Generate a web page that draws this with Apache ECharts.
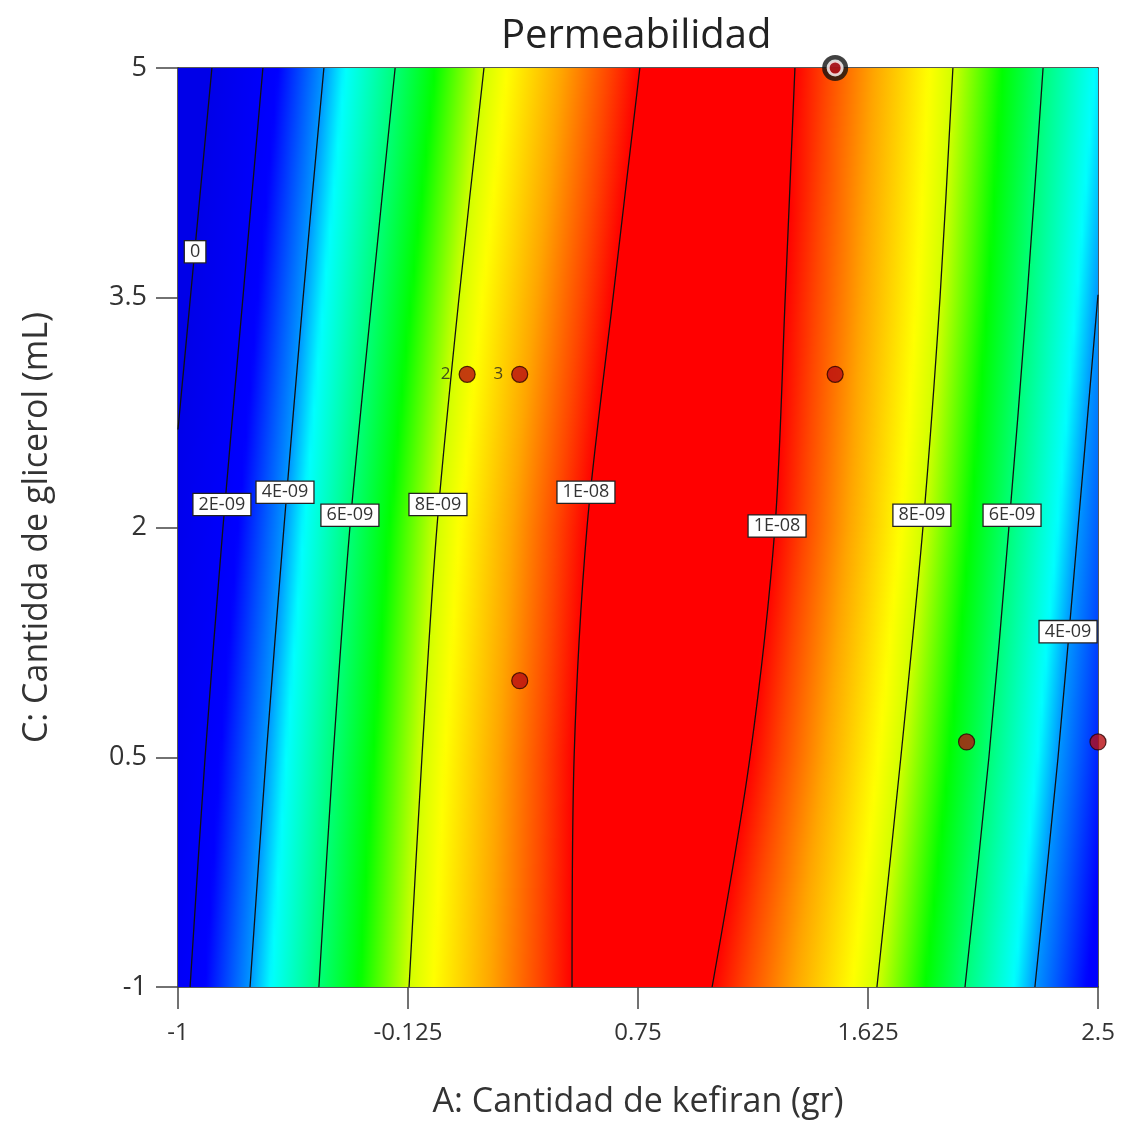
<!DOCTYPE html>
<html>
<head>
<meta charset="utf-8">
<script src="https://cdn.jsdelivr.net/npm/echarts@6/dist/echarts.min.js"></script>
<style>
  html, body { margin: 0; padding: 0; background: #fff; }
  #main { width: 1123px; height: 1124px; }
</style>
</head>
<body>
<div id="main"></div>
<script type="text/javascript">
    // axis ticks
    var xTicks = [-1, -0.125, 0.75, 1.625, 2.5];
    var yTicks = [-1, 0.5, 2, 3.5, 5];

    // contour lines: level and [A, C] points
    var contourLevels = [0, 2e-9, 4e-9, 6e-9, 8e-9, 1e-8, 1e-8, 8e-9, 6e-9, 4e-9];
    var contourPaths = [
        [[-1.0, 2.64], [-0.871, 5]],
        [[-0.954, -1], [-0.897, 0.5], [-0.829, 2], [-0.753, 3.5], [-0.677, 5]],
        [[-0.726, -1], [-0.665, 0.5], [-0.597, 2], [-0.524, 3.5], [-0.445, 5]],
        [[-0.464, -1], [-0.410, 0.5], [-0.346, 2], [-0.262, 3.5], [-0.174, 5]],
        [[-0.121, -1], [-0.072, 0.5], [-0.015, 2], [0.069, 3.5], [0.164, 5]],
        [[0.499, -1], [0.507, 0.5], [0.556, 2], [0.655, 3.5], [0.757, 5]],
        [[1.032, -1], [1.176, 0.5], [1.271, 2], [1.310, 3.5], [1.347, 5]],
        [[1.659, -1], [1.750, 0.5], [1.834, 2], [1.899, 3.5], [1.948, 5]],
        [[1.994, -1], [2.085, 0.5], [2.161, 2], [2.230, 3.5], [2.291, 5]],
        [[2.260, -1], [2.348, 0.5], [2.424, 2], [2.5, 3.52], [2.576, 5]]
    ];

    // contour labels
    var labelText = ['0', '2E-09', '4E-09', '6E-09', '8E-09', '1E-08', '1E-08', '8E-09', '6E-09', '4E-09'];
    var labelA = [-0.935, -0.833, -0.593, -0.346, -0.011, 0.552, 1.279, 1.830, 2.173, 2.386];
    var labelC = [3.80, 2.15, 2.23, 2.08, 2.15, 2.23, 2.01, 2.08, 2.08, 1.32];

    // design points
    var runA = [0.1, 0.3, 1.5, 0.3, 2.0, 2.5];
    var runC = [3, 3, 3, 1.0, 0.6, 0.6];
    var runTag = ['2', '3', '', '', '', ''];

    // selected optimum
    var optA = [1.5];
    var optC = [5];

    // colour ramp (value -> rgb)
    var ramp = [
        [0, [0, 0, 232]],
        [2.5e-9, [0, 0, 255]],
        [4.0e-9, [0, 150, 255]],
        [4.6e-9, [0, 255, 255]],
        [6.0e-9, [0, 255, 120]],
        [6.9e-9, [0, 255, 0]],
        [8.0e-9, [210, 255, 0]],
        [8.3e-9, [255, 255, 0]],
        [9.0e-9, [255, 165, 0]],
        [9.6e-9, [255, 70, 0]],
        [1.0e-8, [255, 0, 0]]
    ];

    function rampColor(v) {
        if (v <= ramp[0][0]) return 'rgb(' + ramp[0][1].join(',') + ')';
        for (var i = 0; i < ramp.length - 1; i++) {
            if (v <= ramp[i + 1][0]) {
                var t = (v - ramp[i][0]) / (ramp[i + 1][0] - ramp[i][0]);
                var a = ramp[i][1], b = ramp[i + 1][1];
                return 'rgb(' + Math.round(a[0] + t * (b[0] - a[0])) + ',' +
                    Math.round(a[1] + t * (b[1] - a[1])) + ',' +
                    Math.round(a[2] + t * (b[2] - a[2])) + ')';
            }
        }
        return 'rgb(' + ramp[ramp.length - 1][1].join(',') + ')';
    }

    function valueAt(knots, px) {
        if (knots.length === 0) return 0;
        if (knots.length === 1) return knots[0][1];
        var i = 0;
        if (px <= knots[0][0]) i = 0;
        else if (px >= knots[knots.length - 1][0]) i = knots.length - 2;
        else {
            while (i < knots.length - 2 && px > knots[i + 1][0]) i++;
        }
        var a = knots[i], b = knots[i + 1];
        if (b[0] === a[0]) return a[1];
        return a[1] + (px - a[0]) / (b[0] - a[0]) * (b[1] - a[1]);
    }

    var myChart = echarts.init(document.getElementById('main'));

    var series = [];

    // colour field built from the contour lines
    series.push({
        type: 'custom',
        silent: true,
        clip: true,
        z: 1,
        data: [0],
        renderItem: function (params, api) {
            var tl = api.coord([xTicks[0], yTicks[yTicks.length - 1]]);
            var br = api.coord([xTicks[xTicks.length - 1], yTicks[0]]);
            var w = br[0] - tl[0];
            var paths = contourPaths.map(function (p) {
                return p.map(function (q) { return api.coord(q); });
            });
            var children = [];
            var step = 2;
            var n = 230;
            for (var py = Math.floor(tl[1]); py < br[1]; py += step) {
                var my = Math.min(Math.max(py + step / 2, tl[1]), br[1]);
                var knots = [];
                paths.forEach(function (p, i) {
                    for (var k = 0; k < p.length - 1; k++) {
                        var a = p[k], b = p[k + 1];
                        var lo = Math.min(a[1], b[1]), hi = Math.max(a[1], b[1]);
                        if (my >= lo && my <= hi) {
                            var t = (my - a[1]) / (b[1] - a[1]);
                            knots.push([a[0] + t * (b[0] - a[0]), contourLevels[i]]);
                            break;
                        }
                    }
                });
                knots.sort(function (a, b) { return a[0] - b[0]; });
                var stops = [];
                for (var s = 0; s <= n; s++) {
                    stops.push({ offset: s / n, color: rampColor(valueAt(knots, tl[0] + w * s / n)) });
                }
                children.push({
                    type: 'rect',
                    shape: { x: tl[0], y: py, width: w, height: step + 0.6 },
                    style: { fill: new echarts.graphic.LinearGradient(0, 0, 1, 0, stops) }
                });
            }
            return { type: 'group', children: children };
        }
    });

    contourPaths.forEach(function (p) {
        series.push({
            type: 'line',
            data: p.filter(function (q) { return q[0] <= xTicks[xTicks.length - 1]; }),
            symbol: 'none',
            silent: true,
            clip: true,
            smooth: 0.3,
            z: 3,
            lineStyle: { color: '#111', width: 1.3 }
        });
    });

    // boxed contour labels
    series.push({
        type: 'custom',
        silent: true,
        clip: false,
        z: 5,
        data: labelText.map(function (t, i) { return [labelA[i], labelC[i]]; }),
        renderItem: function (params, api) {
            var p = api.coord([api.value(0), api.value(1)]);
            return {
                type: 'text',
                x: p[0],
                y: p[1],
                style: {
                    text: labelText[params.dataIndex],
                    fill: '#333',
                    fontSize: 18,
                    fontFamily: 'Open Sans',
                    align: 'center',
                    verticalAlign: 'middle',
                    backgroundColor: '#fff',
                    borderColor: '#222',
                    borderWidth: 1.3,
                    padding: [2, 5, 1, 5]
                }
            };
        }
    });

    series.push({
        type: 'scatter',
        silent: true,
        z: 6,
        symbolSize: 16,
        itemStyle: { color: '#b80d12', borderColor: '#2a0000', borderWidth: 1.2 },
        label: {
            show: true,
            position: 'left',
            distance: 8,
            formatter: '{b}',
            color: '#222',
            fontSize: 17,
            fontFamily: 'Open Sans'
        },
        data: runA.map(function (a, i) {
            return { name: runTag[i], value: [a, runC[i]] };
        })
    });

    series.push({
        type: 'scatter',
        silent: true,
        clip: false,
        z: 7,
        symbolSize: 26,
        itemStyle: { color: '#111' },
        data: optA.map(function (a, i) { return [a, optC[i]]; })
    });
    series.push({
        type: 'scatter',
        silent: true,
        clip: false,
        z: 8,
        symbolSize: 14,
        itemStyle: { color: '#c4121a', borderColor: '#fff', borderWidth: 3 },
        data: optA.map(function (a, i) { return [a, optC[i]]; })
    });

    var option = {
        backgroundColor: '#fff',
        animation: false,
        title: {
            text: 'Permeabilidad',
            left: 496,
            top: 12,
            textStyle: { fontFamily: 'Open Sans', fontSize: 40, fontWeight: 'normal', color: '#222' }
        },
        grid: { left: 178, right: 25, top: 68, bottom: 137, show: false },
        xAxis: [{
            type: 'value',
            min: xTicks[0],
            max: xTicks[xTicks.length - 1],
            position: 'bottom',
            name: 'A: Cantidad de kefiran (gr)',
            nameLocation: 'middle',
            nameGap: 98,
            nameTextStyle: { fontFamily: 'Open Sans', fontSize: 34, color: '#333' },
            axisLine: { show: true, onZero: false, lineStyle: { color: '#222', width: 1.5 } },
            axisTick: { show: true, length: 22, customValues: xTicks, lineStyle: { color: '#444', width: 1.5 } },
            axisLabel: { customValues: xTicks, fontFamily: 'Open Sans', fontSize: 24, color: '#333', margin: 34 },
            splitLine: { show: false }
        }, {
            type: 'value',
            min: xTicks[0],
            max: xTicks[xTicks.length - 1],
            position: 'top',
            axisLine: { show: true, onZero: false, lineStyle: { color: '#222', width: 1.5 } },
            axisTick: { show: false },
            axisLabel: { show: false },
            splitLine: { show: false }
        }],
        yAxis: [{
            type: 'value',
            min: yTicks[0],
            max: yTicks[yTicks.length - 1],
            position: 'left',
            name: 'C: Cantidda de glicerol (mL)',
            nameLocation: 'middle',
            nameGap: 124,
            nameTextStyle: { fontFamily: 'Open Sans', fontSize: 34, color: '#333' },
            axisLine: { show: true, onZero: false, lineStyle: { color: '#222', width: 1.5 } },
            axisTick: { show: true, length: 22, customValues: yTicks, lineStyle: { color: '#444', width: 1.5 } },
            axisLabel: { customValues: yTicks, fontFamily: 'Open Sans', fontSize: 27, color: '#333', margin: 31 },
            splitLine: { show: false }
        }, {
            type: 'value',
            min: yTicks[0],
            max: yTicks[yTicks.length - 1],
            position: 'right',
            axisLine: { show: true, onZero: false, lineStyle: { color: '#222', width: 1.5 } },
            axisTick: { show: false },
            axisLabel: { show: false },
            splitLine: { show: false }
        }],
        series: series
    };
    myChart.setOption(option);
</script>
</body>
</html>
